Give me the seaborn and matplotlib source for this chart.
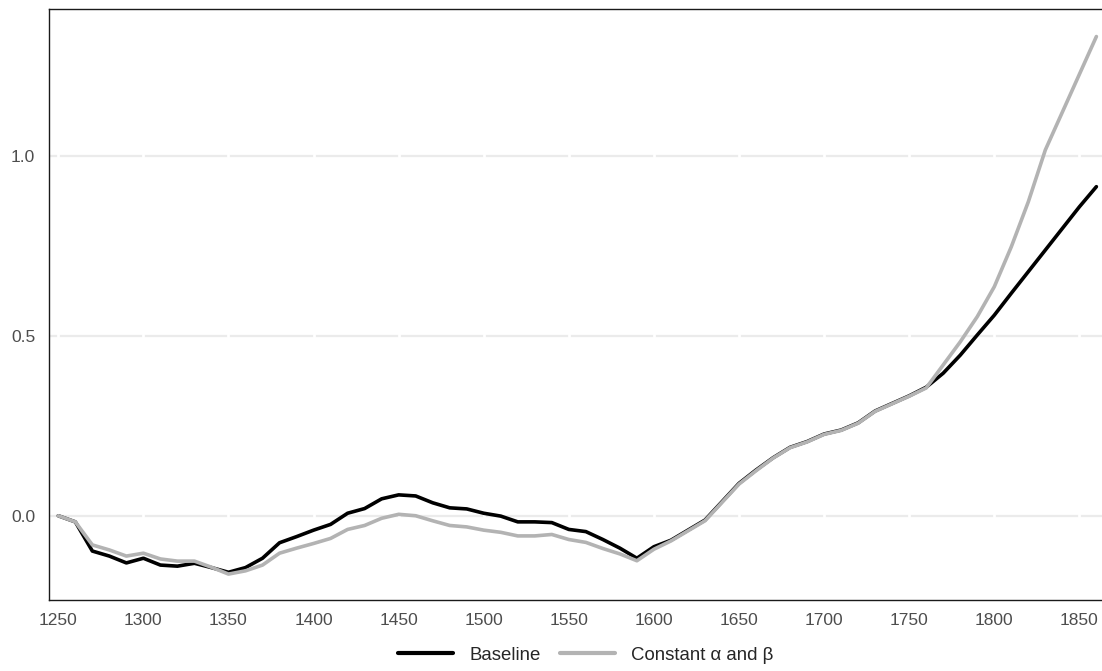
import matplotlib
matplotlib.use("Agg")
import matplotlib.pyplot as plt
import pandas as pd
import seaborn as sns

YEARS = [1250, 1260, 1270, 1280, 1290, 1300, 1310, 1320, 1330, 1340,
         1350, 1360, 1370, 1380, 1390, 1400, 1410, 1420, 1430, 1440,
         1450, 1460, 1470, 1480, 1490, 1500, 1510, 1520, 1530, 1540,
         1550, 1560, 1570, 1580, 1590, 1600, 1610, 1620, 1630, 1640,
         1650, 1660, 1670, 1680, 1690, 1700, 1710, 1720, 1730, 1740,
         1750, 1760, 1770, 1780, 1790, 1800, 1810, 1820, 1830, 1840,
         1850, 1860]

BASELINE = [0.000, -0.017, -0.098, -0.112, -0.131, -0.118, -0.137, -0.140, -0.132, -0.144,
            -0.157, -0.144, -0.118, -0.075, -0.058, -0.040, -0.024, 0.007, 0.020, 0.047,
            0.058, 0.055, 0.036, 0.022, 0.019, 0.007, -0.001, -0.017, -0.017, -0.019,
            -0.038, -0.044, -0.066, -0.090, -0.118, -0.086, -0.068, -0.040, -0.012, 0.039,
            0.090, 0.127, 0.161, 0.190, 0.206, 0.227, 0.238, 0.258, 0.291, 0.312,
            0.333, 0.357, 0.396, 0.446, 0.502, 0.557, 0.618, 0.678, 0.738, 0.798,
            0.858, 0.914]

CONSTANT = [0.000, -0.017, -0.081, -0.095, -0.112, -0.104, -0.120, -0.126, -0.126, -0.143,
            -0.162, -0.153, -0.137, -0.104, -0.090, -0.077, -0.063, -0.038, -0.027, -0.007,
            0.004, 0.000, -0.014, -0.027, -0.031, -0.040, -0.046, -0.056, -0.056, -0.052,
            -0.066, -0.074, -0.091, -0.106, -0.125, -0.093, -0.070, -0.042, -0.014, 0.037,
            0.088, 0.125, 0.160, 0.189, 0.205, 0.226, 0.237, 0.257, 0.290, 0.311,
            0.332, 0.355, 0.419, 0.483, 0.553, 0.636, 0.747, 0.872, 1.016, 1.121,
            1.226, 1.331]

SERIES = ["Baseline", "Constant α and β"]
COLORS = ["#000000", "#b3b3b3"]
X_TICKS = [1250, 1300, 1350, 1400, 1450, 1500, 1550, 1600, 1650, 1700, 1750, 1800, 1850]
Y_TICKS = [0.0, 0.5, 1.0]

sns.set_style("white")
plt.rcParams["font.family"] = ["Liberation Sans", "DejaVu Sans"]

df = pd.DataFrame({
    "year": YEARS * 2,
    "value": BASELINE + CONSTANT,
    "series": [SERIES[0]] * len(YEARS) + [SERIES[1]] * len(YEARS),
})

fig = plt.figure(figsize=(11.02, 6.71), dpi=100)
ax = fig.add_axes([48.5 / 1102, 1 - 600 / 671, 1 - 48.5 / 1102, (600 - 9) / 671])

# horizontal grey grid, broken by white vertical lines at the x ticks
for y in Y_TICKS:
    ax.axhline(y, color="#ebebeb", lw=1.6, zorder=0.5)
for x in X_TICKS:
    ax.axvline(x, color="white", lw=2.0, zorder=0.6)

sns.lineplot(data=df, x="year", y="value", hue="series", hue_order=SERIES,
             palette=dict(zip(SERIES, COLORS)), linewidth=2.6, ax=ax,
             legend=False, zorder=2)

ax.set_xlim(1244.24, 1863.3)
ax.set_ylim(-0.234, 1.4075)
ax.set_xticks(X_TICKS)
ax.set_yticks(Y_TICKS)
ax.set_yticklabels([f"{v:.1f}" for v in Y_TICKS])
ax.set_xlabel("")
ax.set_ylabel("")
ax.tick_params(axis="both", length=4, width=1.4, color="#333333",
               labelcolor="#4d4d4d", labelsize=12.5, pad=5.5)

for side in ["left", "top", "bottom"]:
    ax.spines[side].set_color("#1a1a1a")
    ax.spines[side].set_linewidth(1.0)
ax.spines["right"].set_visible(False)

handles = [plt.Line2D([], [], color=c, lw=3) for c in COLORS]
fig.legend(handles, SERIES, loc="center", bbox_to_anchor=(586 / 1102, 1 - 655 / 671),
           ncol=2, frameon=False, fontsize=13.4, handlelength=2.95,
           handletextpad=0.9, columnspacing=1.0)

fig.savefig("out.png", dpi=100)
